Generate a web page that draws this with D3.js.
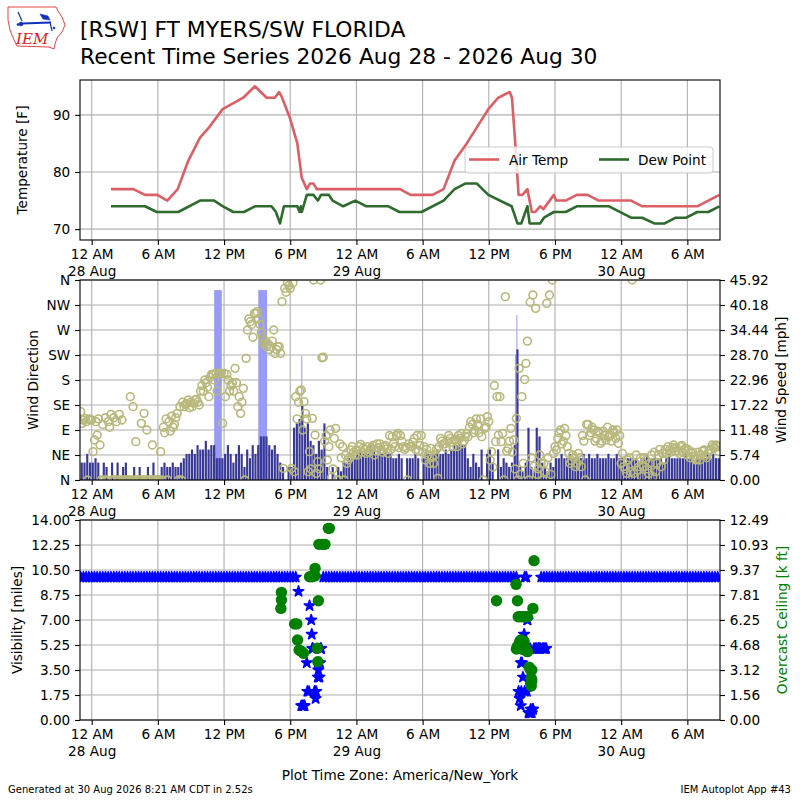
<!DOCTYPE html>
<html><head><meta charset="utf-8">
<script src="https://cdn.jsdelivr.net/npm/d3@7"></script>
<style>body{margin:0;background:#fff} svg{font-family:"DejaVu Sans",sans-serif}</style>
</head><body>
<svg id="c" width="800" height="800"></svg>
<script>
// ---------------- DATA (hours since 12 AM 28 Aug, America/New_York) ----------------
const titleLine1 = "[RSW] FT MYERS/SW FLORIDA";
const titleLine2 = "Recent Time Series 2026 Aug 28 - 2026 Aug 30";
const xDomain = [-1.06, 56.96];
const xTickHours = [0, 6, 12, 18, 24, 30, 36, 42, 48, 54];
const xTickLabels = ["12 AM", "6 AM", "12 PM", "6 PM", "12 AM", "6 AM", "12 PM", "6 PM", "12 AM", "6 AM"];
const xTickDates = ["28 Aug", "", "", "", "29 Aug", "", "", "", "30 Aug", ""];

const tempTicks = [70, 80, 90];
const tempTime = [1.75, 3.77, 4.83, 5.95, 6.85, 7.8, 8.76, 9.82, 10.72, 11.87, 13.74, 14.8, 15.86, 16.6, 16.98, 17.2, 17.98, 18.64, 19.04, 19.5, 19.8, 20.1, 20.4, 27.95, 28.9, 30.9, 31.9, 32.9, 34.0, 35.96, 36.86, 37.9, 38.1, 38.4, 38.7, 39.05, 39.5, 39.9, 40.2, 40.65, 40.95, 41.9, 42.1, 42.97, 43.97, 44.95, 45.96, 48.9, 49.9, 54.9, 56.9];
const airTemp  = [77, 77, 76, 76, 75, 77, 82, 86, 88, 91, 93, 95, 93, 93, 94, 93.3, 89.4, 85, 79, 77, 78, 78, 77, 77, 76, 76, 77, 82, 85, 91, 93, 94, 93, 85, 76, 76, 77, 73, 73, 74, 73.5, 76, 75, 75, 76, 76, 75, 75, 74, 74, 76];
const dewTime = [1.75, 4.83, 5.9, 7.85, 9.82, 11.1, 11.9, 12.84, 13.8, 14.8, 16.3, 16.7, 17.07, 17.43, 18.64, 18.85, 18.95, 19.05, 19.5, 20.1, 20.5, 20.8, 21.5, 21.84, 22.8, 23.9, 24.9, 26.9, 27.9, 29.9, 31.9, 32.9, 33.9, 34.9, 35.96, 38.07, 38.6, 38.95, 39.5, 39.7, 40.65, 41.0, 41.9, 42.97, 43.97, 46.9, 48.9, 49.9, 51.0, 51.95, 52.95, 53.9, 54.9, 55.9, 56.9];
const dewPoint = [74, 74, 73, 73, 75, 75, 74, 73, 73, 74, 74, 73, 71, 74, 74, 73, 74, 73, 76, 76, 75, 76, 76, 75, 74, 75, 74, 74, 73, 73, 75, 77, 78, 78, 76, 74, 71, 71, 74, 71, 71, 72, 73, 73, 74, 74, 72, 72, 71, 71, 72, 72, 73, 73, 74];

// wind: one value every 15 minutes starting at hour -1
const windStart = -1, windStep = 0.25;
const windSpeed = [ // mph
  4,4,6,4,  4,5,4,0,  4,3,0,4,  0,4,0,3,  4,0,0,3,  0,3,0,0,  3,0,4,0,  0,3,4,3,   // -1..6
  3,4,3,3,  4,5,6,6,  7,6,8,7,  7,9,7,8,  8,5,5,5,  6,8,6,4,  6,8,6,3,  7,5,8,6,   // 7..14
  8,10,10,10, 8,7,8,6, 4,3,0,3, 3,12,13,14, 17,12,13,9, 8,6,9,7, 13,3,0,3, 0,3,2,4, // 15..22
  4,5,5,5,  6,7,6,7,  6,8,7,6,  7,6,7,6,  6,5,5,6,  5,0,5,5,  5,6,5,0,  5,6,6,6,   // 23..30
  6,7,6,6,  7,6,7,8,  8,9,8,8,  5,3,6,4,  3,7,0,6,  7,4,0,7,  3,5,4,3,  4,8,30,3,  // 31..38
  2,4,12,3, 2,12,10,4, 3,2,4,3, 5,5,6,5,  5,6,5,5,  5,5,6,5,  6,5,5,6,  5,5,5,6,   // 39..46
  5,5,6,5,  5,4,5,5,  5,5,4,5,  5,6,5,5,  5,5,5,4,  5,6,5,5,  5,5,5,6,  5,5,4,5,   // 47..54
  5,5,5,6,  5,6,5,5                                                                 // 55..56
];
const windDirA = [ // degrees
  123,108,105,110, 108,72,81,63, 100,112,105,118, 112,105,118,108, 0,0,150,132, 69,0,102,120, 90,0,63,0, 0,51,95,110,
  105,115,100,120, 132,140,136,144, 140,138,145,135, 170,180,167,185, 190,192,192,192, 192,190,160,175, 201,132,120,165, 219,290,280,300,
  303,280,257,250, 245,240,270,235, 240,321,345,355, 345,355,150,140, 162,141,110,51, 111,81,33,360, 221,80,60,5, 75,0,65,60,
  45,36,54,50, 54,60,50,55, 60,55,62,52, 58,55,60,56, 80,78,60,84, 80,60,58,65, 60,75,80,62, 50,36,45,57,
  30,55,60,70, 65,70,75,60, 72,80,84,70, 84,95,100,90, 100,110,0,95, 105,51,170,150, 150,84,330,57, 93,72,111,201,
  150,181,250,320, 333,309,20,30, 30,318,333,360, 60,75,90,70, 80,48,35,40, 30,40,80,0, 100,85,90,75, 85,70,80,95,
  80,90,75,66, 30,24,12,40, 360,30,18,40, 24,36,12,45, 50,30,55,48, 55,60,50,63, 58,48,62,55, 45,40,50,36,
  50,45,54,40, 55,63,58,60
];
const windDirB = [ // secondary direction readings in the same 15 minutes
  102,111,0,108, 51,105,110,0, 0,0,95,0, 0,0,0,0, 0,0,0,0, 0,0,0,0, 0,0,0,0, 0,0,85,0,
  88,95,112,0, 0,132,138,130, 132,144,140,160, 160,175,150,190, 180,160,192,102, 150,180,170,160, 175,150,140,0, 270,285,257,300,
  290,265,245,240, 235,250,228,240, 228,21,338,350, 21,15,110,160, 90,120,15,20, 360,12,20,220, 70,36,90,20, 93,0,40,0,
  30,40,60,45, 45,64,58,48, 50,58,45,65, 65,50,62,48, 55,65,80,58, 70,55,0,60, 68,55,52,80, 60,55,30,40,
  45,3,75,65, 58,80,68,72, 60,75,65,78, 78,105,85,110, 85,78,93,114, 36,23,69,81, 69,0,52,70, 50,20,0,10,
  30,210,0,40, 25,10,45,0, 15,40,10,48, 54,85,65,93, 60,30,45,24, 48,24,70,100, 80,95,70,88, 66,88,72,78,
  70,85,90,80, 48,20,36,15, 12,45,24,6, 40,20,30,6, 15,45,24,36, 48,54,58,52, 52,60,50,57, 54,48,42,38,
  36,52,44,48, 54,60,63,51
];
const gustStart = [11.1, 15.1, 19.0, 38.38, 38.5];
const gustEnd   = [11.8, 15.9, 19.08, 38.45, 38.58];
const gustSpeed = [43.6, 43.6, 28.5, 28.7, 37.9];
const dirTickLabels = ["N", "NE", "E", "SE", "S", "SW", "W", "NW", "N"];
const speedTickLabels = ["0.00", "5.74", "11.48", "17.22", "22.96", "28.70", "34.44", "40.18", "45.92"];

// visibility: one value every 15 minutes starting at hour -1 (miles)
const visibility = [
  10,10,10,10, 10,10,10,10, 10,10,10,10, 10,10,10,10, 10,10,10,10, 10,10,10,10, 10,10,10,10, 10,10,10,10, // -1..6
  10,10,10,10, 10,10,10,10, 10,10,10,10, 10,10,10,10, 10,10,10,10, 10,10,10,10, 10,10,10,10, 10,10,10,10, // 7..14
  10,10,10,10, 10,10,10,10, 10,10,10,10, 10,10,10,9,  1,1,4,8,     5,2,3,5,     10,10,10,10, 10,10,10,10, // 15..22
  10,10,10,10, 10,10,10,10, 10,10,10,10, 10,10,10,10, 10,10,10,10, 10,10,10,10, 10,10,10,10, 10,10,10,10, // 23..30
  10,10,10,10, 10,10,10,10, 10,10,10,10, 10,10,10,10, 10,10,10,10, 10,10,10,10, 10,10,10,10, 10,10,10,5,  // 31..38
  4,10,7,0.5,  0.75,5,5,10, 10,10,10,10, 10,10,10,10, 10,10,10,10, 10,10,10,10, 10,10,10,10, 10,10,10,10, // 39..46
  10,10,10,10, 10,10,10,10, 10,10,10,10, 10,10,10,10, 10,10,10,10, 10,10,10,10, 10,10,10,10, 10,10,10,10, // 47..54
  10,10,10,10, 10,10,10,10                                                                                 // 55..56
];
const stormVisTime = [19.1, 19.2, 19.3, 19.55, 19.7, 19.9, 19.95, 20.05, 20.2, 20.3, 20.35, 20.5, 20.55, 20.6, 20.65, 20.7, 20.8,
  38.7, 38.8, 38.85, 38.9, 38.92, 38.95, 39.0, 39.1, 39.15, 39.2, 39.25, 39.3, 39.4, 39.45, 39.5, 39.55, 39.6, 39.7, 39.75, 39.8, 39.9, 40.0, 40.1, 40.3, 40.5, 40.6, 40.7, 40.9, 41.0, 41.1, 41.2];
const stormVis = [1, 1, 1, 2, 2, 7, 6, 5, 2, 1.5, 2, 4, 3.5, 3, 3, 4, 5,
  2, 1.5, 5, 1, 4, 2, 5, 3, 5, 6, 2, 5, 10, 2, 7, 5, 0.5, 0.5, 5, 0.75, 0.5, 0.75, 5, 5, 5, 5, 5, 5, 5, 5, 5];
const ceilTime = [17.15, 17.2, 17.2, 18.4, 18.6, 18.66, 18.8, 19.0, 19.2, 19.75, 20.0, 20.25, 20.25, 20.45, 20.5, 20.55, 20.6, 20.9, 21.15, 21.45, 21.55,
  36.7, 38.47, 38.6, 38.67, 38.9, 39.1, 39.3, 39.5, 40.0, 40.1, 38.5, 38.6, 38.8, 38.9, 39.0, 39.1, 39.2, 39.3, 39.5, 39.66, 39.8, 39.9, 39.85, 39.85, 39.9, 39.8];
const ceiling = [6.97, 7.49, 7.97, 6.0, 6.0, 5.0, 4.37, 4.3, 4.17, 8.95, 8.95, 9.0, 9.47, 4.48, 3.64, 7.45, 10.97, 10.97, 10.97, 11.97, 11.97,
  7.45, 8.47, 7.45, 6.45, 6.45, 6.45, 6.45, 6.45, 6.97, 9.95, 4.43, 4.6, 4.89, 5.0, 4.6, 4.4, 4.9, 4.5, 4.27, 3.29, 3.1, 3.12, 2.6, 2.12, 2.45, 2.3];
const visTickLabels = ["0.00", "1.75", "3.50", "5.25", "7.00", "8.75", "10.50", "12.25", "14.00"];
const ceilTickLabels = ["0.00", "1.56", "3.12", "4.68", "6.25", "7.81", "9.37", "10.93", "12.49"];

// ---------------- DRAWING ----------------
const svg = d3.select("#c");
const FS = 13.6;
const L = 80, R = 720;
const P1 = {top: 80, bottom: 240}, P2 = {top: 280, bottom: 480}, P3 = {top: 520, bottom: 720};
const x = d3.scaleLinear().domain(xDomain).range([L, R]);
const yT = d3.scaleLinear().domain([68.1, 96.1]).range([P1.bottom, P1.top]);
const yDir = d3.scaleLinear().domain([0, 360]).range([P2.bottom, P2.top]);
const ySpd = d3.scaleLinear().domain([0, 45.92]).range([P2.bottom, P2.top]);
const yVis = d3.scaleLinear().domain([0, 14]).range([P3.bottom, P3.top]);
const yCeil = d3.scaleLinear().domain([0, 12.49]).range([P3.bottom, P3.top]);

const defs = svg.append("defs");
[P1, P2, P3].forEach((p, i) => {
  defs.append("clipPath").attr("id", "clip" + i).append("rect")
    .attr("x", L).attr("y", p.top).attr("width", R - L).attr("height", p.bottom - p.top);
});

function grid(p, yScale, yVals) {
  const g = svg.append("g").attr("stroke", "#b0b0b0").attr("stroke-width", 1.1);
  g.selectAll("line.v").data(xTickHours).join("line")
    .attr("x1", d => x(d)).attr("x2", d => x(d)).attr("y1", p.top).attr("y2", p.bottom);
  g.selectAll("line.h").data(yVals).join("line")
    .attr("x1", L).attr("x2", R).attr("y1", d => yScale(d)).attr("y2", d => yScale(d));
}
function styleAxis(g) {
  g.select(".domain").remove();
  g.selectAll("line").attr("stroke", "#000").attr("stroke-width", 1.1);
  g.selectAll("text").attr("font-size", FS).attr("fill", "#000").attr("font-family", "DejaVu Sans");
}
function xAxis(p) {
  const g = svg.append("g").attr("transform", `translate(0,${p.bottom})`)
    .call(d3.axisBottom(x).tickValues(xTickHours).tickSize(4.9).tickPadding(4.9).tickSizeOuter(0).tickFormat(() => ""));
  styleAxis(g);
  g.selectAll(".tick text").each(function(d, i) {
    const t = d3.select(this);
    t.append("tspan").attr("x", 0).text(xTickLabels[i]);
    if (xTickDates[i]) t.append("tspan").attr("x", 0).attr("dy", "1.2em").text(xTickDates[i]);
  });
}
function leftAxis(scale, vals, labels) {
  const g = svg.append("g").attr("transform", `translate(${L},0)`)
    .call(d3.axisLeft(scale).tickValues(vals).tickSize(4.9).tickPadding(4.9).tickSizeOuter(0).tickFormat((d, i) => labels[i]));
  styleAxis(g);
}
function rightAxis(scale, vals, labels) {
  const g = svg.append("g").attr("transform", `translate(${R},0)`)
    .call(d3.axisRight(scale).tickValues(vals).tickSize(4.9).tickPadding(4.9).tickSizeOuter(0).tickFormat((d, i) => labels[i]));
  styleAxis(g);
}
function frame(p) {
  svg.append("rect").attr("x", L).attr("y", p.top).attr("width", R - L).attr("height", p.bottom - p.top)
    .attr("fill", "none").attr("stroke", "#000").attr("stroke-width", 1.1);
}
function yLabel(txt, cx, cy, color) {
  svg.append("text").attr("transform", `translate(${cx},${cy}) rotate(-90)`).attr("text-anchor", "middle")
    .attr("dominant-baseline", "central").attr("font-size", FS).attr("fill", color || "#000").text(txt);
}

// ---- Title & logo ----
svg.append("text").attr("x", 80).attr("y", 36.5).attr("font-size", 21.8).text(titleLine1);
svg.append("text").attr("x", 80).attr("y", 63.5).attr("font-size", 21.8).text(titleLine2);
const logo = svg.append("g");
logo.append("path").attr("d", "M8,7 L56,7 L58,11 L62,17 L65,25 L62,32 L57,38 L55,44 L54,49 L49,47 L17,46 L14,40 L10,30 L8,20 Z")
  .attr("fill", "#fff").attr("stroke", "#e03030").attr("stroke-width", 0.9);
logo.append("text").attr("x", 16).attr("y", 44).attr("font-family", "DejaVu Serif, Liberation Serif, serif")
  .attr("font-style", "italic").attr("font-size", 15).attr("fill", "#e02020").text("IEM");
const lb = logo.append("g").attr("stroke", "#1030c0").attr("fill", "#1030c0");
lb.append("line").attr("x1", 22).attr("y1", 23.5).attr("x2", 51).attr("y2", 22.5).attr("stroke-width", 2);
lb.append("line").attr("x1", 18).attr("y1", 12).attr("x2", 22).attr("y2", 21).attr("stroke-width", 1.2);
lb.append("circle").attr("cx", 21).attr("cy", 24).attr("r", 1.8);
lb.append("path").attr("d", "M40,14 L48,16 L50,20 L43,19 Z").attr("stroke-width", 0.6);
lb.append("line").attr("x1", 50).attr("y1", 22).attr("x2", 52).attr("y2", 31).attr("stroke-width", 1.2);
lb.append("circle").attr("cx", 54).attr("cy", 28).attr("r", 0.9);
lb.append("circle").attr("cx", 18).attr("cy", 24.5).attr("r", 0.9);

// ---- Panel 1: temperatures ----
grid(P1, yT, tempTicks);
const g1 = svg.append("g").attr("clip-path", "url(#clip0)");
const tLine = d3.line().x(d => x(d[0])).y(d => yT(d[1]));
g1.append("path").datum(tempTime.map((t, i) => [t, airTemp[i]])).attr("d", tLine)
  .attr("fill", "none").attr("stroke", "#dc5f66").attr("stroke-width", 2.6).attr("stroke-linejoin", "round");
g1.append("path").datum(dewTime.map((t, i) => [t, dewPoint[i]])).attr("d", tLine)
  .attr("fill", "none").attr("stroke", "#2e6a2e").attr("stroke-width", 2.6).attr("stroke-linejoin", "round");
frame(P1);
xAxis(P1);
leftAxis(yT, tempTicks, tempTicks.map(String));
yLabel("Temperature [F]", 22, 160);
// legend
const lg = svg.append("g");
lg.append("rect").attr("x", 465).attr("y", 147).attr("width", 248).attr("height", 26).attr("rx", 3)
  .attr("fill", "#fff").attr("fill-opacity", 0.8).attr("stroke", "#cccccc").attr("stroke-width", 1);
lg.append("line").attr("x1", 469).attr("x2", 499).attr("y1", 159.5).attr("y2", 159.5).attr("stroke", "#dc5f66").attr("stroke-width", 2.6);
lg.append("text").attr("x", 509).attr("y", 164.5).attr("font-size", FS).text("Air Temp");
lg.append("line").attr("x1", 599).attr("x2", 629).attr("y1", 159.5).attr("y2", 159.5).attr("stroke", "#2e6a2e").attr("stroke-width", 2.6);
lg.append("text").attr("x", 638).attr("y", 164.5).attr("font-size", FS).text("Dew Point");

// ---- Panel 2: wind ----
const dirVals = dirTickLabels.map((d, i) => i * 45);
grid(P2, yDir, dirVals);
const g2 = svg.append("g").attr("clip-path", "url(#clip1)");
const windTime = windSpeed.map((d, i) => windStart + i * windStep);
g2.selectAll("rect.gust").data(gustSpeed).join("rect")
  .attr("x", (d, i) => x(gustStart[i])).attr("width", (d, i) => Math.max(1, x(gustEnd[i]) - x(gustStart[i])))
  .attr("y", d => ySpd(d)).attr("height", d => ySpd(0) - ySpd(d)).attr("fill", "#9a9af8");
g2.selectAll("rect.spd").data(windSpeed).join("rect")
  .attr("x", (d, i) => x(windTime[i]))
  .attr("width", (d, i) => x(windTime[i] + windStep) - x(windTime[i]) - 0.6)
  .attr("y", d => ySpd(d)).attr("height", d => ySpd(0) - ySpd(d)).attr("fill", "#383896");
const dirPts = windTime.map((t, i) => [t, windDirA[i]]).concat(windTime.map((t, i) => [t + 0.12, windDirB[i]]));
g2.selectAll("circle.dir").data(dirPts).join("circle")
  .attr("cx", d => x(d[0])).attr("cy", d => yDir(d[1])).attr("r", 3.9)
  .attr("fill", "none").attr("stroke", "#b8b87c").attr("stroke-width", 1.6);
frame(P2);
xAxis(P2);
leftAxis(yDir, dirVals, dirTickLabels);
rightAxis(ySpd, speedTickLabels.map(Number), speedTickLabels);
yLabel("Wind Direction", 33, 380);
yLabel("Wind Speed [mph]", 781, 380);

// ---- Panel 3: visibility & ceiling ----
const visVals = visTickLabels.map(Number);
grid(P3, yVis, visVals);
const g3 = svg.append("g").attr("clip-path", "url(#clip2)");
const star = d3.symbol(d3.symbolStar, 34)();
const visPts = visibility.map((v, i) => [windStart + i * windStep, v]).concat(stormVisTime.map((t, i) => [t, stormVis[i]]));
g3.selectAll("path.vis").data(visPts).join("path")
  .attr("d", star).attr("transform", d => `translate(${x(d[0])},${yVis(d[1])})`)
  .attr("fill", "#0000ff").attr("stroke", "#0000ff").attr("stroke-width", 1.6).attr("stroke-linejoin", "round");
g3.selectAll("circle.ceil").data(ceiling).join("circle")
  .attr("cx", (d, i) => x(ceilTime[i])).attr("cy", d => yCeil(d)).attr("r", 5.7).attr("fill", "#008000");
frame(P3);
xAxis(P3);
leftAxis(yVis, visVals, visTickLabels);
rightAxis(yCeil, ceilTickLabels.map(Number), ceilTickLabels);
yLabel("Visibility [miles]", 17, 620);
yLabel("Overcast Ceiling [k ft]", 782, 620, "#008000");

// ---- footer ----
svg.append("text").attr("x", 400).attr("y", 780).attr("text-anchor", "middle").attr("font-size", FS)
  .text("Plot Time Zone: America/New_York");
svg.append("text").attr("x", 8).attr("y", 793).attr("font-size", 10).text("Generated at 30 Aug 2026 8:21 AM CDT in 2.52s");
svg.append("text").attr("x", 791).attr("y", 793).attr("text-anchor", "end").attr("font-size", 10).text("IEM Autoplot App #43");
</script>
</body></html>
